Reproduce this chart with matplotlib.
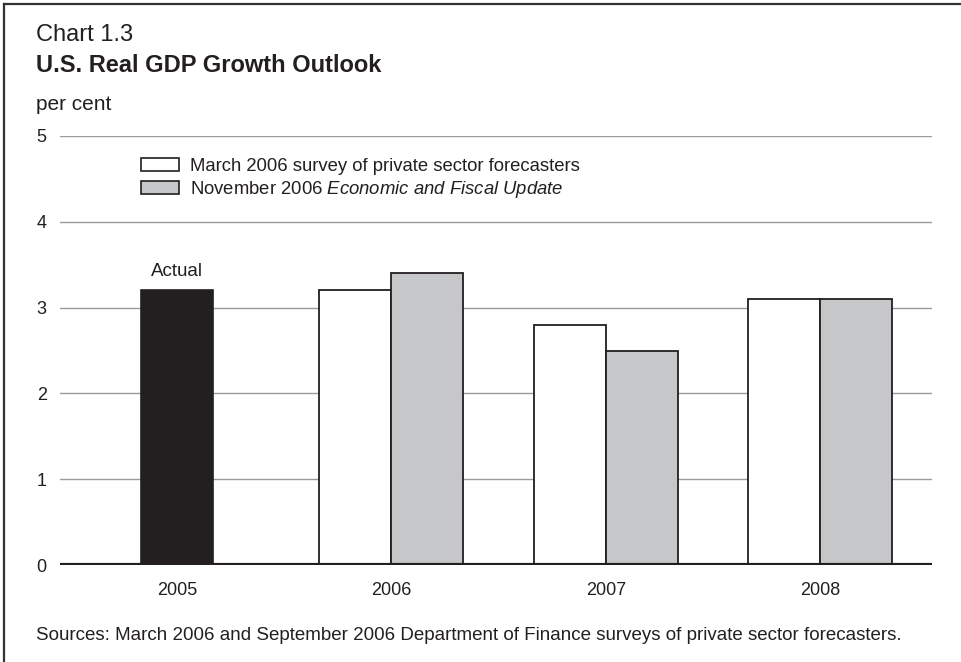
import matplotlib
matplotlib.use("Agg")
import matplotlib.pyplot as plt
from matplotlib.patches import Patch
from matplotlib.lines import Line2D
import numpy as np

plt.rcParams['font.family'] = ['Liberation Sans', 'DejaVu Sans']
plt.rcParams['mathtext.fontset'] = 'custom'
plt.rcParams['mathtext.rm'] = 'Liberation Sans'
plt.rcParams['mathtext.it'] = 'Liberation Sans:italic'

# Data
years = ['2005', '2006', '2007', '2008']
actual = [3.2, None, None, None]
march_survey = [None, 3.2, 2.8, 3.1]
nov_update = [None, 3.4, 2.5, 3.1]
yticks = [0, 1, 2, 3, 4, 5]

TXT = '#231f20'
BLACK = '#231f20'
GRAY = '#c6c7c9'
GRID = '#9a9a9a'

fig = plt.figure(figsize=(9.62, 6.62), dpi=100)
ax = fig.add_axes([60/962, 1-565/662, (932-60)/962, (565-136)/662])

x = np.arange(len(years))
w = 0.336
for i in range(len(years)):
    if actual[i] is not None:
        ax.bar(x[i], actual[i], width=w, color=BLACK, edgecolor=BLACK, lw=1.2, zorder=3)
    if march_survey[i] is not None:
        ax.bar(x[i] - w/2, march_survey[i], width=w, color='white', edgecolor=BLACK, lw=1.3, zorder=3)
    if nov_update[i] is not None:
        ax.bar(x[i] + w/2, nov_update[i], width=w, color=GRAY, edgecolor=BLACK, lw=1.3, zorder=3)

ax.text(x[0], actual[0] + 0.22, 'Actual', ha='center', va='center', fontsize=13.5, color=TXT)

ax.set_ylim(0, 5)
ax.set_xlim(-0.547, 3.523)
ax.set_yticks(yticks)
ax.set_yticklabels([str(v) for v in yticks])
ax.set_xticks(x)
ax.set_xticklabels(years)
ax.tick_params(axis='both', length=0, labelsize=13, colors=TXT)
ax.tick_params(axis='y', pad=9.5)
ax.tick_params(axis='x', pad=12)
for s in ax.spines.values():
    s.set_visible(False)
for v in yticks[1:]:
    ax.axhline(v, color=GRID, lw=1.0, zorder=1)
ax.axhline(0, color=BLACK, lw=3, zorder=4)

handles = [Patch(facecolor='white', edgecolor=BLACK, lw=1.2),
           Patch(facecolor=GRAY, edgecolor=BLACK, lw=1.2)]
labels = ['March 2006 survey of private sector forecasters',
          r'November 2006 $\mathit{Economic\ and\ Fiscal\ Update}$']
leg = ax.legend(handles, labels, loc='upper left', bbox_to_anchor=(141/962, 1-158/662),
                bbox_transform=fig.transFigure, frameon=False, fontsize=13.3,
                handlelength=2.05, handleheight=0.65, labelspacing=0.22,
                handletextpad=0.6, borderpad=0, borderaxespad=0)
for t in leg.get_texts():
    t.set_color(TXT)

fig.text(36/962, 1-35/662, 'Chart 1.3', fontsize=17, color=TXT, va='center', ha='left')
fig.text(36/962, 1-66/662, 'U.S. Real GDP Growth Outlook', fontsize=17, fontweight='bold',
         color=TXT, va='center', ha='left')
fig.text(36/962, 1-105/662, 'per cent', fontsize=15, color=TXT, va='center', ha='left')
fig.text(36/962, 1-636/662,
         'Sources: March 2006 and September 2006 Department of Finance surveys of private sector forecasters.',
         fontsize=13.5, color=TXT, va='center', ha='left')

# outer frame (left and top edges)
fig.add_artist(Line2D([4/962, 4/962], [0, 1-4/662], transform=fig.transFigure, color='#333333', lw=1.6))
fig.add_artist(Line2D([4/962, 1], [1-4/662, 1-4/662], transform=fig.transFigure, color='#333333', lw=1.6))

fig.savefig('out.png', dpi=100)
